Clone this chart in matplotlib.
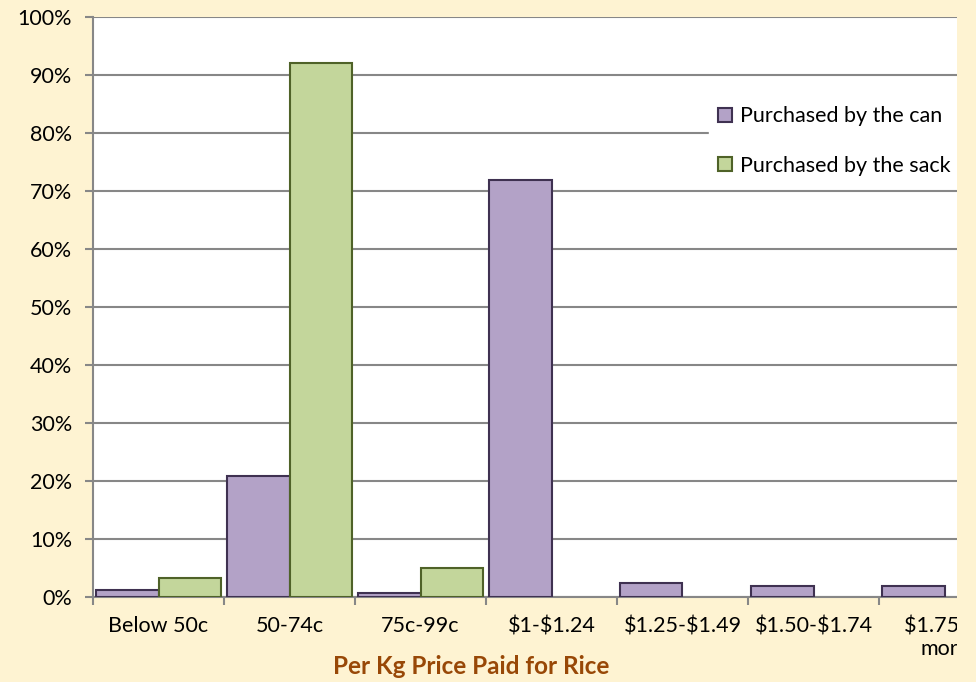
# rice price chart - per kg price paid, can vs sack
import matplotlib.pyplot as plt
from matplotlib.patches import Rectangle
import numpy as np

plt.rcParams['font.family'] = ['Lato', 'DejaVu Sans']
plt.rcParams['text.parse_math'] = False

categories = ['Below 50c', '50-74c', '75c-99c', '$1-$1.24',
              '$1.25-$1.49', '$1.50-$1.74', '$1.75 or\nmore']
can_pct = [1.2, 20.8, 0.6, 71.8, 2.4, 1.9, 1.9]
sack_pct = [3.2, 92.0, 5.0, 0, 0, 0, 0]
y_ticks = list(range(0, 101, 10))

BG = '#FEF3D2'
GRID = '#878787'
COLORS = {
    'can' : ('#B3A2C7', '#3F3151'),
    'sack': ('#C3D69B', '#4F6228'),
}

W, H = 976, 682
fig = plt.figure(figsize=(W / 100, H / 100), dpi=100, facecolor=BG)

# plot area runs past the right edge (chart is cut off there)
left, right, top, bottom = 93, 1010, 16.7, 596.7
ax = fig.add_axes([left / W, (H - bottom) / H,
                   (right - left) / W, (bottom - top) / H])
ax.set_facecolor('white')

x = np.arange(len(categories))
bw = 0.48
sack = np.array(sack_pct, dtype=float)
sack[sack == 0] = np.nan

ax.bar(x - bw / 2, can_pct, width=bw, color=COLORS['can'][0],
       edgecolor=COLORS['can'][1], linewidth=1.5, zorder=3,
       label='Purchased by the can')
ax.bar(x + bw / 2, sack, width=bw, color=COLORS['sack'][0],
       edgecolor=COLORS['sack'][1], linewidth=1.5, zorder=3,
       label='Purchased by the sack')

ax.set_xlim(-0.5, len(categories) - 0.5)
ax.set_ylim(0, 100)

ax.set_yticks(y_ticks)
ax.set_yticklabels([f'{v}%' for v in y_ticks])
ax.yaxis.grid(True, color=GRID, linewidth=1.5, zorder=1)
ax.tick_params(axis='y', length=6, width=1.5, color=GRID,
               pad=9, labelsize=15.5)

ax.set_xticks(x)
ax.set_xticklabels(categories)
ax.set_xticks(np.arange(len(categories) + 1) - 0.5, minor=True)
ax.tick_params(axis='x', which='major', length=0, pad=14, labelsize=15.5)
ax.tick_params(axis='x', which='minor', length=6, width=1.5, color=GRID)

for side in ['top', 'right']:
    ax.spines[side].set_visible(False)
for side in ['left', 'bottom']:
    ax.spines[side].set_color(GRID)
    ax.spines[side].set_linewidth(1.5)
ax.set_axisbelow(True)

leg = ax.legend(loc='upper left',
                bbox_to_anchor=(698 / W, (H - 86) / H),
                bbox_transform=fig.transFigure,
                frameon=True, fancybox=False, framealpha=1,
                edgecolor='white', fontsize=15.5,
                handlelength=0.65, handleheight=0.65,
                handletextpad=0.35, labelspacing=1.35,
                borderpad=0.45)

fig.text(471 / W, (H - 667) / H, 'Per Kg Price Paid for Rice',
         ha='center', va='center', fontsize=17.5, fontweight='bold',
         color='#984807')

# cream strip on the right edge where the chart gets cut
fig.patches.append(Rectangle((957 / W, 0), (W - 957) / W, 1,
                             transform=fig.transFigure,
                             facecolor=BG, edgecolor='none', zorder=10))

plt.savefig('out.png', dpi=100, facecolor=BG)
